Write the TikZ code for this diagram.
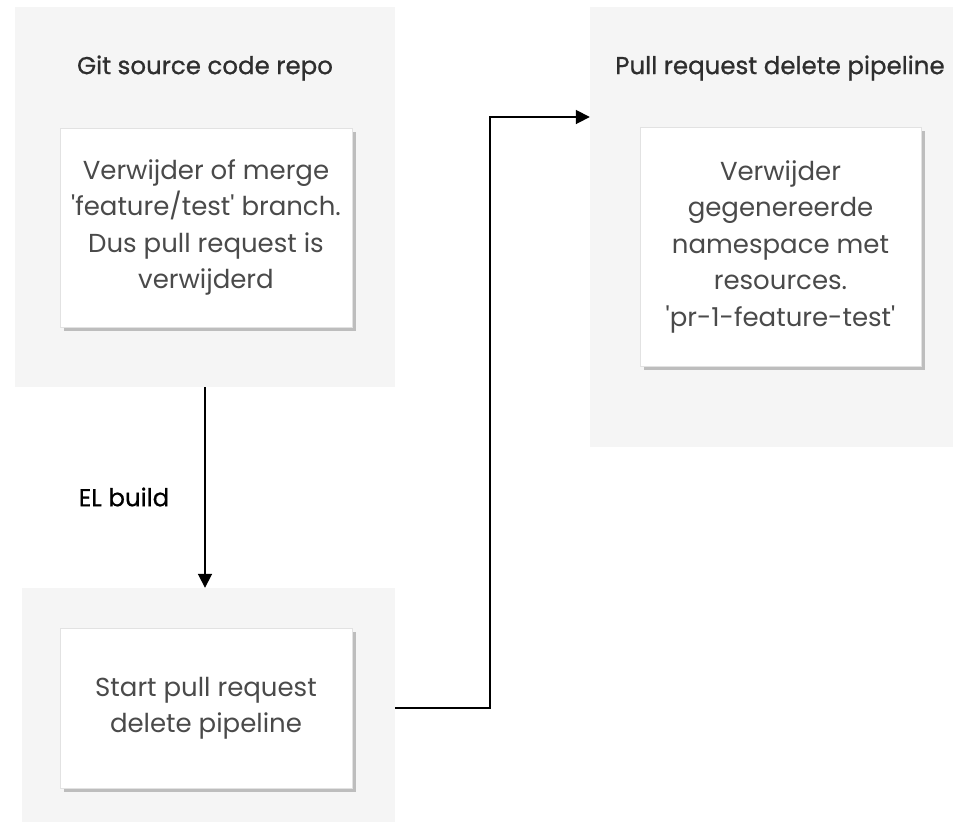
\documentclass[tikz,border=0pt]{standalone}
\usepackage{fontspec}
\setmainfont{Poppins}
\newfontfamily\titlefont[FakeBold=0.8]{Poppins}
\usetikzlibrary{arrows.meta,shadows}
\definecolor{groupfill}{HTML}{F5F5F5}
\definecolor{boxline}{HTML}{E2E2E2}
\definecolor{shadowgray}{HTML}{BDBDBD}
\definecolor{bodytext}{HTML}{4A4A4A}
\definecolor{titletext}{HTML}{2E2E2E}
\tikzset{
  groupbox/.style={fill=groupfill, draw=none, inner sep=0pt},
  cardbox/.style={fill=white, draw=boxline, line width=0.8pt, inner sep=0pt,
    align=center, text=bodytext, font=\fontsize{26}{36.5}\selectfont,
    drop shadow={shadow xshift=4pt, shadow yshift=-4pt, fill=shadowgray, opacity=1}},
  grouptitle/.style={text=titletext, font=\titlefont\fontsize{24.5}{28}\selectfont, inner sep=0pt},
  arr/.style={draw=black, line width=1.8pt, -{Triangle[length=14pt,width=14pt]}},
}
\begin{document}
\begin{tikzpicture}[x=1pt,y=-1pt]
\useasboundingbox (0,0) rectangle (954,823);
% groups
\node[groupbox, minimum width=380pt, minimum height=380pt] (g1) at (205,197) {};
\node[groupbox, minimum width=363pt, minimum height=440pt] (g2) at (771.5,227) {};
\node[groupbox, minimum width=373pt, minimum height=234pt] (g3) at (208.5,705) {};
% titles
\node[grouptitle] (t1) at (205,68) {Git source code repo};
\node[grouptitle] (t2) at (780,68) {Pull request delete pipeline};
% cards
\node[cardbox, minimum width=292pt, minimum height=199pt] (b1) at (206,227.5)
  {Verwijder of merge\\\textquotesingle feature/test\textquotesingle{} branch.\\Dus pull request is\\verwijderd};
\node[cardbox, minimum width=281pt, minimum height=239pt] (b2) at (780.5,246.5)
  {Verwijder\\gegenereerde\\namespace met\\resources.\\\textquotesingle pr-1-feature-test\textquotesingle};
\node[cardbox, minimum width=292pt, minimum height=160pt] (b3) at (206,708)
  {Start pull request\\delete pipeline};
% label
\node[text=black, font=\titlefont\fontsize{24.5}{28}\selectfont, inner sep=0pt] (el) at (124,497) {EL build};
% connectors
\draw[arr] (g1.south) -- (g1.south |- g3.north);
\coordinate (corner) at (490,117);
\draw[arr] (b3.center -| g3.east) -| (corner) -- (corner -| g2.west);
\end{tikzpicture}
\end{document}
